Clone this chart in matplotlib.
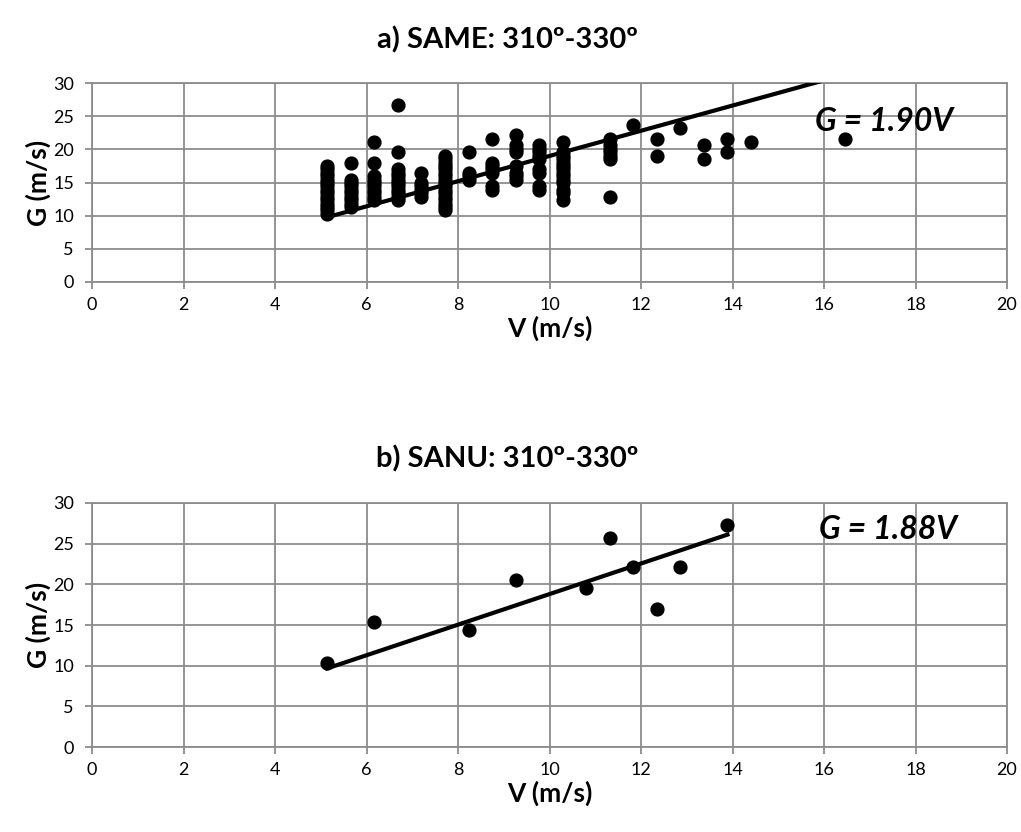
import numpy as np
import matplotlib
matplotlib.use("Agg")
import matplotlib.pyplot as plt

plt.rcParams['font.family'] = ['Lato', 'DejaVu Sans']

# a) SAME: wind speed columns (m/s) and the gusts observed at each
same_v = [5.14, 5.66, 6.17, 6.69, 7.20, 7.72, 8.23, 8.75, 9.26, 9.77,
          10.29, 11.32, 11.83, 12.35, 12.86, 13.38, 13.89, 14.40, 16.46]
same_g = [
    [10.29, 10.80, 11.32, 11.83, 12.35, 12.86, 13.38, 13.89, 14.40, 14.92,
     15.43, 15.95, 16.46, 16.98, 17.49],
    [11.32, 11.83, 12.35, 12.86, 13.38, 13.89, 14.40, 14.92, 15.43, 18.00],
    [12.35, 12.86, 13.38, 13.89, 14.40, 14.92, 15.43, 15.95, 18.00, 21.09],
    [12.35, 12.86, 13.38, 13.89, 14.40, 14.92, 15.43, 15.95, 16.46, 16.98,
     19.55, 26.75],
    [12.86, 13.38, 13.89, 14.40, 14.92, 16.46],
    [10.80, 11.32, 11.83, 12.35, 12.86, 13.38, 13.89, 14.40, 14.92, 15.43,
     15.95, 16.46, 16.98, 17.49, 18.00, 18.52, 19.03],
    [15.43, 15.95, 16.46, 19.55],
    [13.89, 14.40, 16.46, 16.98, 17.49, 18.00, 21.60],
    [15.43, 15.95, 16.46, 17.49, 19.55, 20.06, 20.58, 22.12],
    [13.89, 14.40, 16.46, 16.98, 18.52, 19.03, 19.55, 20.06, 20.58],
    [12.35, 13.38, 13.89, 14.92, 15.43, 15.95, 16.46, 16.98, 17.49, 18.00,
     18.52, 19.03, 19.55, 21.09],
    [12.86, 18.52, 19.03, 19.55, 20.06, 20.58, 21.60],
    [23.66],
    [19.03, 21.60],
    [23.15],
    [18.52, 20.58],
    [19.55, 21.60],
    [21.09],
    [21.60],
]
same_slope = 1.90

# b) SANU
sanu_v = [5.14, 6.17, 8.23, 9.26, 10.80, 11.32, 11.83, 12.35, 12.86, 13.89]
sanu_g = [10.29, 15.43, 14.40, 20.58, 19.55, 25.72, 22.12, 16.98, 22.12, 27.26]
sanu_slope = 1.88

grid_col = '#8c8c8c'
W, H = 1021, 832

fig = plt.figure(figsize=(W / 100, H / 100), dpi=100)
ax_a = fig.add_axes([92 / W, 1 - 282 / H, 915 / W, 199 / H])
ax_b = fig.add_axes([92 / W, 1 - 747 / H, 915 / W, 244 / H])


def style(ax, h_px):
    ax.set_xlim(0, 20)
    ax.set_ylim(0, 30)
    ax.set_xticks(np.arange(0, 21, 2))
    ax.set_yticks(np.arange(0, 31, 5))
    ax.grid(True, color=grid_col, linewidth=1.3)
    ax.set_axisbelow(True)
    for s in ax.spines.values():
        s.set_color(grid_col)
        s.set_linewidth(1.3)
    ax.tick_params(direction='out', length=5, width=1.3, color=grid_col,
                   labelsize=13, labelcolor='black')
    ax.tick_params(axis='x', pad=6)
    ax.tick_params(axis='y', pad=8)
    ax.text(0.5, -46 / h_px, 'V (m/s)', transform=ax.transAxes,
            ha='center', va='center', fontsize=19, fontweight='bold')
    ax.text(-54 / 915, 0.5, 'G (m/s)', transform=ax.transAxes, rotation=90,
            ha='center', va='center', fontsize=19, fontweight='bold')


xa = np.concatenate([[v] * len(g) for v, g in zip(same_v, same_g)])
ya = np.concatenate(same_g)
ax_a.scatter(xa, ya, s=85, color='black', zorder=3)
line_v = np.array([min(same_v), max(same_v)])
ax_a.plot(line_v, same_slope * line_v, color='black', linewidth=3, zorder=4)
ax_a.text(15.8, 24.2, 'G = %.2fV' % same_slope, fontsize=23,
          fontweight='bold', fontstyle='italic', va='center', zorder=5)
style(ax_a, 199)

ax_b.scatter(sanu_v, sanu_g, s=85, color='black', zorder=3)
line_v = np.array([min(sanu_v), max(sanu_v)])
ax_b.plot(line_v, sanu_slope * line_v, color='black', linewidth=3, zorder=4)
ax_b.text(15.9, 26.8, 'G = %.2fV' % sanu_slope, fontsize=23,
          fontweight='bold', fontstyle='italic', va='center', zorder=5)
style(ax_b, 244)

fig.text(0.497, 0.952, 'a) SAME: 310º-330º', ha='center', va='center',
         fontsize=21, fontweight='bold')
fig.text(0.497, 0.448, 'b) SANU: 310º-330º', ha='center', va='center',
         fontsize=21, fontweight='bold')

fig.savefig('out.png', dpi=100)
